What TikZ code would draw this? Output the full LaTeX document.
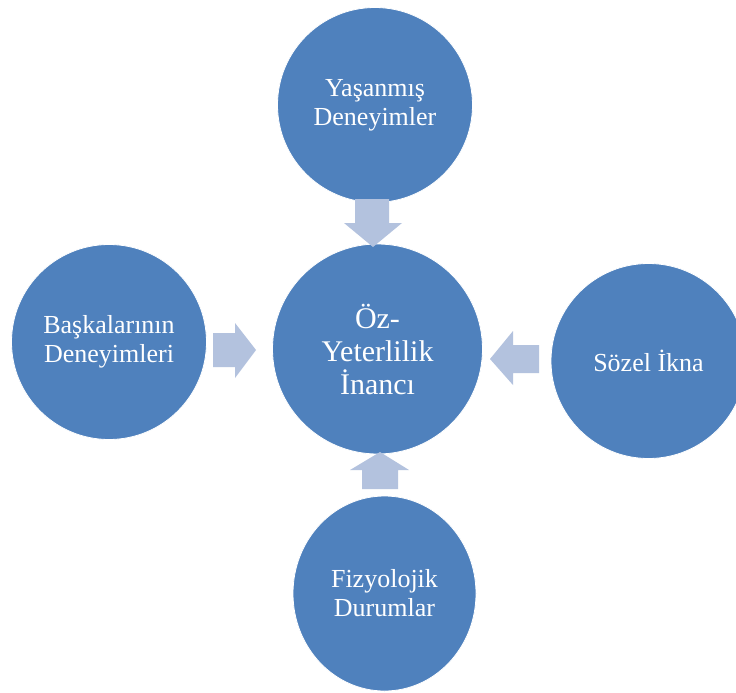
\documentclass[tikz,border=0pt]{standalone}
\usepackage{fontspec}
\usetikzlibrary{shapes.geometric}
\setmainfont{Liberation Serif}
\definecolor{bubble}{HTML}{4F81BD}
\definecolor{flow}{HTML}{B3C2DE}
\tikzset{
  x=1pt, y=-1pt,
  bubble/.style={circle, fill=bubble, draw=white, line width=0.8pt,
    text=white, align=center, inner sep=0pt, minimum size=#1},
  oval/.style={ellipse, fill=bubble, draw=white, line width=0.8pt,
    text=white, align=center, inner sep=0pt},
  outertext/.style={font=\fontsize{26pt}{29pt}\selectfont},
  innertext/.style={font=\fontsize{30pt}{33pt}\selectfont},
  flowarrow/.style={fill=flow, draw=none}
}
\begin{document}
\begin{tikzpicture}
\useasboundingbox (0,0) rectangle (736,693);
\clip (0,0) rectangle (736,693);
\fill[white] (0,0) rectangle (736,693);

% the central belief and its four sources
\node[bubble=210pt, innertext] (core) at (377.5,349) {Öz-\\Yeterlilik\\İnancı};
\node[bubble=195pt, outertext] (lived) at (375,105) {Yaşanmış\\Deneyimler};
\node[bubble=195pt, outertext] (others) at (109,342) {Başkalarının\\Deneyimleri};
\node[bubble=195pt, outertext] (verbal) at (648.5,361) {Sözel İkna};
\node[oval, minimum width=183pt, minimum height=195pt, outertext] (physio) at (384.5,593.5) {Fizyolojik\\Durumlar};

% block arrows pointing to the centre
\fill[flowarrow] (355,199) -- (389,199) -- (389,223) -- (402,223) -- (373,247)
  -- (344,223) -- (355,223) -- cycle;
\fill[flowarrow] (213,333) -- (235,333) -- (235,323) -- (256,350) -- (235,378)
  -- (235,367) -- (213,367) -- cycle;
\fill[flowarrow] (539,345) -- (513,345) -- (513,331) -- (490,359) -- (513,385)
  -- (513,373) -- (539,373) -- cycle;
\fill[flowarrow] (362,489) -- (362,470) -- (350,470) -- (380,452) -- (409,470)
  -- (398,470) -- (398,489) -- cycle;
\end{tikzpicture}
\end{document}
